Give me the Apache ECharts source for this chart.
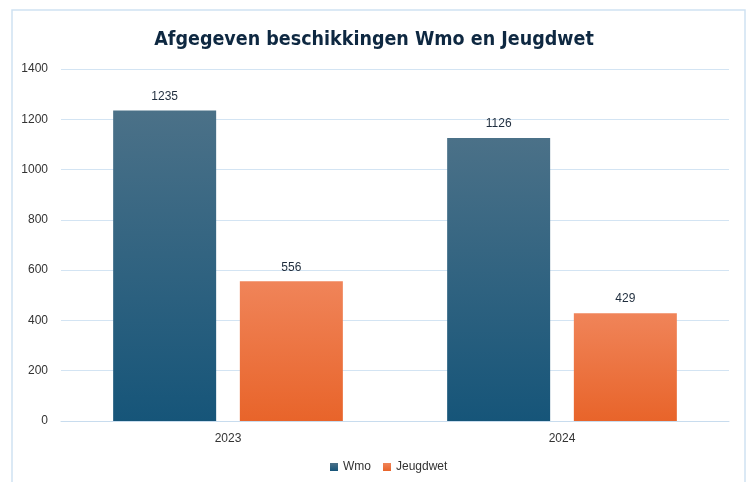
<!DOCTYPE html>
<html>
<head>
<meta charset="utf-8">
<script src="https://cdn.jsdelivr.net/npm/echarts@6/dist/echarts.min.js"></script>
<style>
  html, body { margin: 0; padding: 0; background: #fff; }
  #chart { width: 748px; height: 482px; }
</style>
</head>
<body>
<div id="chart"></div>
<script>
const years = ["2023", "2024"];
const wmo = [1235, 1126];
const jeugdwet = [556, 429];
const yTicks = { min: 0, max: 1400, interval: 200 };

const chart = echarts.init(document.getElementById("chart"));

const grad = (top, bottom) => new echarts.graphic.LinearGradient(0, 0, 0, 1, [
  { offset: 0, color: top },
  { offset: 1, color: bottom }
]);

const labelStyle = { show: true, position: "top", distance: 8, color: "#1f2d3d", fontSize: 12, fontFamily: "Liberation Sans" };

chart.setOption({
  animation: false,
  graphic: [{
    type: "rect",
    shape: { x: 12, y: 10, width: 733, height: 500 },
    style: { fill: "none", stroke: "#cfe2f2", lineWidth: 1.5 },
    silent: true
  }],
  title: {
    text: "Afgegeven beschikkingen Wmo en Jeugdwet",
    left: "center",
    top: 25,
    textStyle: { color: "#0e2841", fontSize: 19.5, fontWeight: "bold", fontFamily: "'DejaVu Sans Condensed', 'DejaVu Sans', sans-serif" }
  },
  legend: {
    bottom: 4,
    left: 325,
    itemWidth: 8,
    itemHeight: 8,
    itemGap: 12,
    icon: "rect",
    textStyle: { color: "#333", fontSize: 12, fontFamily: "Liberation Sans" },
    data: ["Wmo", "Jeugdwet"]
  },
  grid: { left: 61, right: 19, top: 69, bottom: 61 },
  xAxis: {
    type: "category",
    data: years,
    axisLine: { lineStyle: { color: "#c8dcee" } },
    axisTick: { show: false },
    axisLabel: { color: "#333", fontSize: 12, margin: 12, fontFamily: "Liberation Sans" }
  },
  yAxis: {
    type: "value",
    min: yTicks.min,
    max: yTicks.max,
    interval: yTicks.interval,
    axisLine: { show: false },
    axisLabel: { color: "#333", fontSize: 12, margin: 13, fontFamily: "Liberation Sans", formatter: v => String(v) },
    splitLine: { lineStyle: { color: "#d3e4f3", width: 1 } }
  },
  series: [
    {
      name: "Wmo",
      type: "bar",
      data: wmo,
      barWidth: 103,
      barGap: "23%",
      itemStyle: { color: grad("#4b7188", "#165579") },
      label: labelStyle
    },
    {
      name: "Jeugdwet",
      type: "bar",
      data: jeugdwet,
      barWidth: 103,
      itemStyle: { color: grad("#f08459", "#e8642a") },
      label: labelStyle
    }
  ]
});
</script>
</body>
</html>
